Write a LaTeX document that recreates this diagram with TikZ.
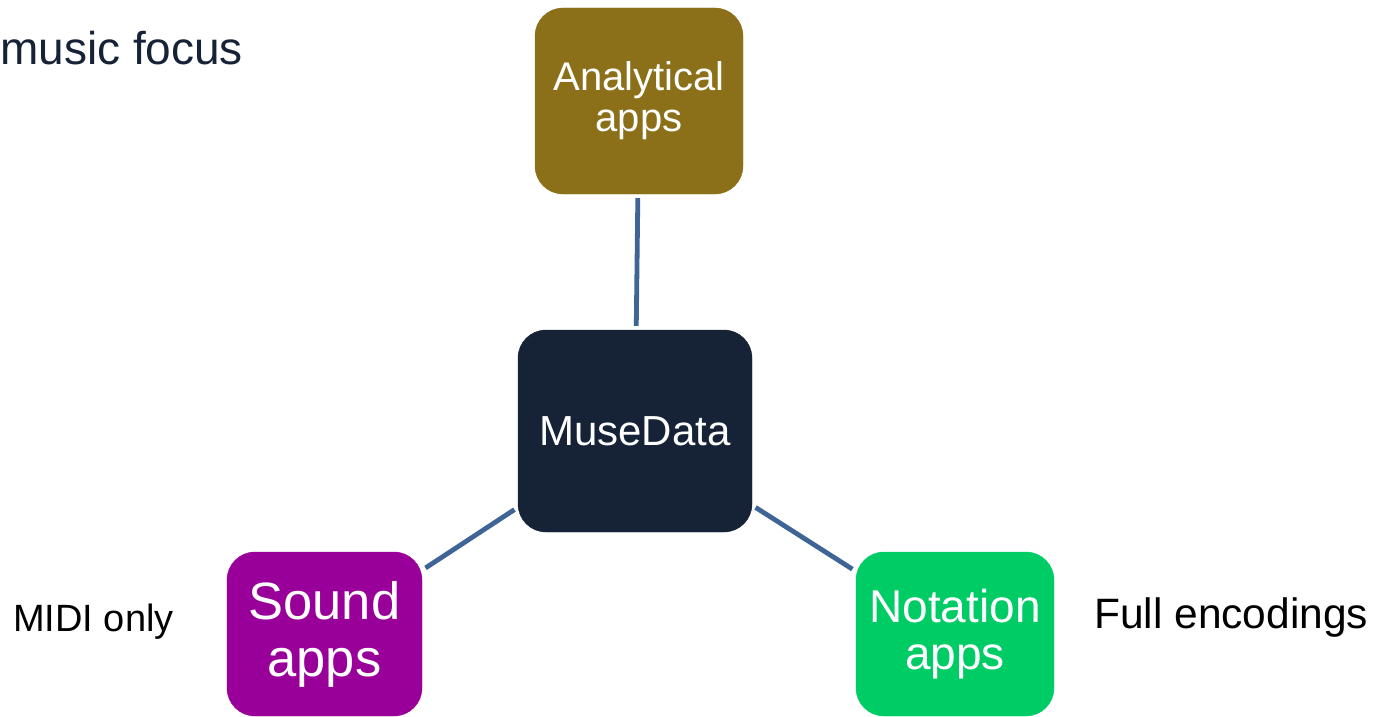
\documentclass[tikz,border=0pt]{standalone}
\usepackage{fontspec}
\setmainfont{Liberation Sans}
\usetikzlibrary{positioning}

\definecolor{navy}{HTML}{162236}
\definecolor{gold}{HTML}{8C6F19}
\definecolor{plum}{HTML}{990099}
\definecolor{mint}{HTML}{00CC66}
\definecolor{steel}{HTML}{3F6596}

\begin{document}
\begin{tikzpicture}[x=1pt,y=-1pt,
    app node/.style={rounded corners=28pt,draw=#1,fill=#1,text=white,align=center,inner sep=0pt},
    note/.style={anchor=base west,inner sep=0pt},
    link/.style={draw=steel,line width=4.8pt,shorten >=4pt,shorten <=4pt}]

\useasboundingbox (0,0) rectangle (1379,717);

\node[app node=navy, minimum width=234pt, minimum height=202pt, font=\fontsize{42}{42}\selectfont]  (MUSE)  at (635,431)   {MuseData};
\node[app node=gold, minimum width=208pt, minimum height=186pt, font=\fontsize{40}{40}\selectfont]  (ANLY)  at (639,101)   {Analytical\\[1pt]apps};
\node[app node=plum, minimum width=195pt, minimum height=164pt, font=\fontsize{52.5}{54}\selectfont] (SOUND) at (324.5,634) {Sound\\[3pt]apps};
\node[app node=mint, minimum width=198pt, minimum height=164pt, font=\fontsize{46}{46}\selectfont]  (NOTA)  at (955,634)   {Notation\\[1pt]apps};

\node[note, text=navy, font=\fontsize{46}{46}\selectfont]   (FOCUS) at (0,65)     {music focus};
\node[note, font=\fontsize{38}{38}\selectfont]              (MIDI)  at (13,631)   {MIDI only};
\node[note, font=\fontsize{42.5}{42.5}\selectfont]          (FULL)  at (1094,628) {Full encodings};

\path[link]
(ANLY) edge (MUSE)
(MUSE) edge (SOUND)
(MUSE) edge (NOTA)
;
\end{tikzpicture}
\end{document}
